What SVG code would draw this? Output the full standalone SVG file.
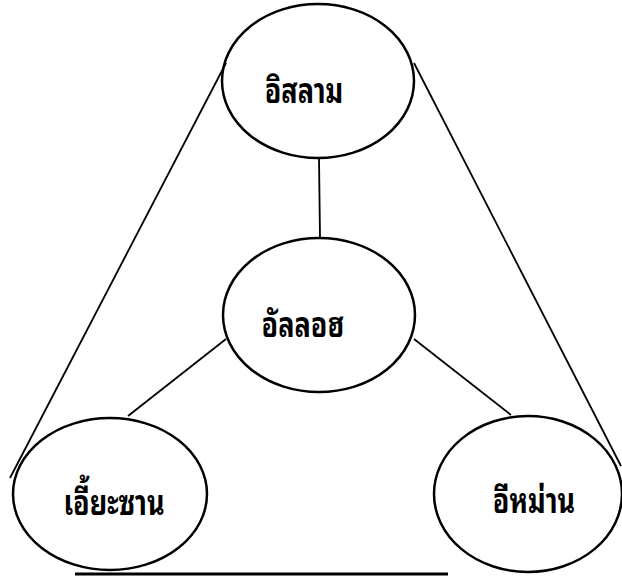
<svg xmlns="http://www.w3.org/2000/svg" width="622" height="576" viewBox="0 0 622 576">
<style>
.n{fill:none;stroke:#000;stroke-width:2.5}
.c line{stroke:#000;stroke-width:1.8}
.t{font-family:"Noto Sans Thai Looped","Noto Sans Thai","Loma","Garuda","DejaVu Sans","Liberation Sans",sans-serif;font-size:27px;font-weight:bold;fill:#000;text-anchor:middle}
</style>
<rect width="622" height="576" fill="#fff"/>
<g id="connectors" class="c">
<line x1="226" y1="63" x2="10" y2="478"/>
<line x1="414" y1="63" x2="621" y2="466"/>
<line x1="319" y1="158" x2="320" y2="238"/>
<line x1="226" y1="339" x2="128" y2="416"/>
<line x1="414" y1="339" x2="511" y2="415"/>
<line x1="75" y1="574" x2="448" y2="574" style="stroke-width:3"/>
</g>
<g id="islam"><ellipse class="n" cx="318" cy="81" rx="96" ry="77"/><text class="t" transform="translate(304,103) scale(1,1.3)">อิสลาม</text></g>
<g id="allah"><ellipse class="n" cx="319" cy="315" rx="96" ry="77"/><text class="t" transform="translate(303,337) scale(1,1.3)">อัลลอฮ</text></g>
<g id="ihsan"><ellipse class="n" cx="110" cy="494" rx="97" ry="76"/><text class="t" transform="translate(114,515) scale(1,1.3)">เอี้ยะซาน</text></g>
<g id="iman"><ellipse class="n" cx="528" cy="494" rx="94" ry="78"/><text class="t" transform="translate(534,513) scale(1,1.3)">อีหม่าน</text></g>
</svg>
